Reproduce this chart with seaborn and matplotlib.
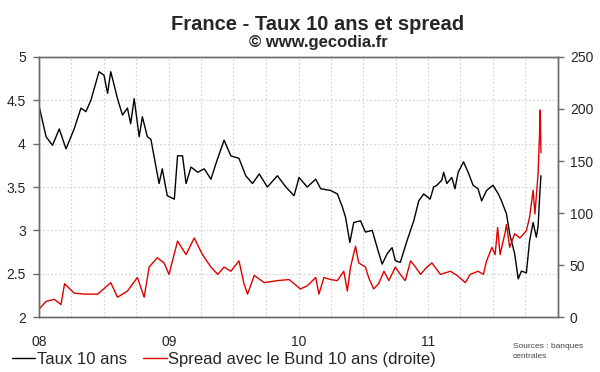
#! /usr/bin/env python3

import pandas as pd
import matplotlib
matplotlib.use('Agg')
import matplotlib.pyplot as plt
import matplotlib.dates as mdates
import matplotlib.ticker as mticker
import seaborn as sns

sns.set_style('white')
plt.rcParams['font.family'] = ['Liberation Sans', 'DejaVu Sans']

# France 10y yield (%, left axis)
taux_dates = [
    '2008-01-02', '2008-01-21', '2008-02-08', '2008-02-27', '2008-03-17',
    '2008-04-09', '2008-04-28', '2008-05-12', '2008-05-26', '2008-06-18',
    '2008-07-02', '2008-07-12', '2008-07-21', '2008-08-09', '2008-08-23',
    '2008-09-06', '2008-09-15', '2008-09-25', '2008-10-09', '2008-10-18',
    '2008-11-01', '2008-11-11', '2008-12-04', '2008-12-13', '2008-12-27',
    '2009-01-16', '2009-01-25', '2009-02-08', '2009-02-18', '2009-03-04',
    '2009-03-23', '2009-04-10', '2009-04-29', '2009-05-13', '2009-06-05',
    '2009-06-24', '2009-07-17', '2009-08-05', '2009-08-24', '2009-09-12',
    '2009-10-05', '2009-11-02', '2009-11-26', '2009-12-19', '2010-01-02',
    '2010-01-25', '2010-02-18', '2010-03-04', '2010-04-01', '2010-04-20',
    '2010-05-04', '2010-05-13', '2010-05-25', '2010-06-05', '2010-06-24',
    '2010-07-08', '2010-07-27', '2010-08-10', '2010-08-24', '2010-09-07',
    '2010-09-21', '2010-09-30', '2010-10-14', '2010-11-02', '2010-11-21',
    '2010-12-05', '2010-12-19', '2011-01-06', '2011-01-16', '2011-01-25',
    '2011-02-08', '2011-02-13', '2011-02-22', '2011-03-08', '2011-03-17',
    '2011-03-26', '2011-04-10', '2011-04-23', '2011-05-07', '2011-05-21',
    '2011-05-31', '2011-06-14', '2011-07-02', '2011-07-17', '2011-07-26',
    '2011-08-09', '2011-08-18', '2011-09-01', '2011-09-11', '2011-09-20',
    '2011-10-04', '2011-10-13', '2011-10-23', '2011-11-01', '2011-11-06',
    '2011-11-11', '2011-11-14',
]
taux = [
    4.42, 4.08, 3.98, 4.17, 3.94,
    4.17, 4.41, 4.37, 4.50, 4.83,
    4.79, 4.58, 4.83, 4.52, 4.33,
    4.41, 4.23, 4.52, 4.08, 4.31,
    4.08, 4.05, 3.54, 3.71, 3.40,
    3.36, 3.86, 3.86, 3.54, 3.73,
    3.67, 3.71, 3.59, 3.77, 4.04,
    3.86, 3.83, 3.63, 3.54, 3.65,
    3.50, 3.63, 3.50, 3.40, 3.61,
    3.50, 3.59, 3.48, 3.46, 3.42,
    3.27, 3.15, 2.86, 3.09, 3.11,
    2.98, 3.00, 2.80, 2.61, 2.73,
    2.80, 2.65, 2.63, 2.88, 3.11,
    3.34, 3.42, 3.36, 3.50, 3.52,
    3.58, 3.67, 3.54, 3.61, 3.48,
    3.67, 3.79, 3.67, 3.52, 3.48,
    3.34, 3.46, 3.52, 3.42, 3.34,
    3.19, 2.96, 2.73, 2.44, 2.53,
    2.51, 2.88, 3.09, 2.92, 3.05,
    3.44, 3.63,
]

# spread vs Bund 10y (bp, right axis)
spread_dates = [
    '2008-01-02', '2008-01-21', '2008-02-13', '2008-03-03', '2008-03-13',
    '2008-04-09', '2008-05-07', '2008-06-14', '2008-07-21', '2008-08-09',
    '2008-09-06', '2008-10-04', '2008-10-23', '2008-11-06', '2008-11-29',
    '2008-12-18', '2009-01-01', '2009-01-25', '2009-02-18', '2009-03-13',
    '2009-04-05', '2009-04-29', '2009-05-18', '2009-06-05', '2009-06-24',
    '2009-07-17', '2009-07-31', '2009-08-10', '2009-08-29', '2009-09-26',
    '2009-11-02', '2009-12-05', '2010-01-06', '2010-01-25', '2010-02-18',
    '2010-02-27', '2010-03-13', '2010-04-01', '2010-04-20', '2010-05-08',
    '2010-05-18', '2010-05-27', '2010-06-10', '2010-06-19', '2010-07-08',
    '2010-07-17', '2010-07-31', '2010-08-14', '2010-08-29', '2010-09-12',
    '2010-09-30', '2010-10-14', '2010-10-28', '2010-11-12', '2010-11-26',
    '2010-12-10', '2010-12-28', '2011-01-11', '2011-02-04', '2011-03-04',
    '2011-03-23', '2011-04-15', '2011-04-29', '2011-05-21', '2011-06-05',
    '2011-06-14', '2011-06-29', '2011-07-08', '2011-07-15', '2011-07-22',
    '2011-08-05', '2011-08-09', '2011-08-18', '2011-09-01', '2011-09-16',
    '2011-10-04', '2011-10-13', '2011-10-23', '2011-10-28', '2011-11-06',
    '2011-11-10', '2011-11-12', '2011-11-14',
]
spread = [
    8, 15, 17, 12, 32,
    23, 22, 22, 33, 19,
    25, 38, 19, 48, 57,
    52, 41, 73, 60, 76,
    60, 48, 41, 48, 44,
    54, 32, 22, 40, 33,
    35, 36, 27, 30, 38,
    22, 38, 36, 35, 44,
    25, 48, 68, 52, 48,
    38, 27, 32, 44, 35,
    48, 41, 35, 54, 48,
    41, 48, 52, 41, 44,
    40, 33, 41, 44, 41,
    54, 67, 60, 86, 60,
    81, 89, 67, 80, 76,
    83, 96, 122, 99, 138,
    176, 199, 158,
]

year_ticks = ['2008-01-01', '2009-01-01', '2010-01-01', '2011-01-01']
year_labels = ['08', '09', '10', '11']

taux_df = pd.DataFrame({'date': pd.to_datetime(taux_dates), 'taux': taux})
spread_df = pd.DataFrame({'date': pd.to_datetime(spread_dates), 'spread': spread})

fig = plt.figure(figsize=(6, 3.72), dpi=100)
ax = fig.add_axes([0.065, 0.1478, 0.865, 0.699])
ax2 = ax.twinx()

sns.lineplot(data=taux_df, x='date', y='taux', ax=ax, color='black',
             linewidth=1.0, label='Taux 10 ans')
sns.lineplot(data=spread_df, x='date', y='spread', ax=ax2, color='#e00000',
             linewidth=1.0, label='Spread avec le Bund 10 ans (droite)')

ax.set_xlim(pd.Timestamp('2008-01-01'), pd.Timestamp('2012-01-01'))
ax.set_ylim(2, 5)
ax2.set_ylim(0, 250)
ax.set_xlabel('')
ax.set_ylabel('')
ax2.set_ylabel('')

tick_pos = mdates.date2num(pd.to_datetime(year_ticks))
ax.xaxis.set_major_locator(mticker.FixedLocator(tick_pos))
ax.xaxis.set_major_formatter(mticker.FixedFormatter(year_labels))
ax.xaxis.set_minor_locator(mdates.MonthLocator(bymonth=[4, 7, 10]))
ax.yaxis.set_major_locator(mticker.MultipleLocator(0.5))
ax.yaxis.set_major_formatter(mticker.FuncFormatter(lambda v, p: '%g' % v))
ax2.yaxis.set_major_locator(mticker.MultipleLocator(50))

grid_kw = dict(color='#d0d0d0', linestyle=(0, (1.5, 2)), linewidth=0.8)
ax.grid(True, axis='x', which='both', **grid_kw)
ax.grid(True, axis='y', which='major', **grid_kw)

spine_col = '#6a6a6a'
for a in (ax, ax2):
    for s in a.spines.values():
        s.set_color(spine_col)
        s.set_linewidth(1.0)

ax.tick_params(axis='x', which='major', direction='inout', length=7.2,
               width=1, color=spine_col, pad=9.5, labelsize=10)
ax.tick_params(axis='x', which='minor', length=0)
ax.tick_params(axis='y', direction='out', length=4, width=1, color=spine_col,
               pad=5.5, labelsize=10, left=True)
ax2.tick_params(axis='y', direction='out', length=4, width=1, color=spine_col,
                pad=4.5, labelsize=10, right=True)

h1, l1 = ax.get_legend_handles_labels()
h2, l2 = ax2.get_legend_handles_labels()
ax.get_legend().remove()
ax2.get_legend().remove()
fig.legend(h1 + h2, l1 + l2, loc='lower left', bbox_to_anchor=(0.0, -0.018),
           ncol=2, frameon=False, fontsize=12, handlelength=1.4,
           handletextpad=0.1, columnspacing=1.0, borderpad=0.2)

fig.text(0.53, 0.919, 'France - Taux 10 ans et spread', ha='center',
         va='baseline', fontsize=14.5, fontweight='bold')
fig.text(0.53, 0.874, '\u00a9 www.gecodia.fr', ha='center', va='baseline',
         fontsize=12, fontweight='bold')
fig.text(0.855, 0.033, 'Sources : banques\ncentrales', ha='left',
         va='bottom', fontsize=6, color='#444444', linespacing=1.5)

plt.savefig('out.png', dpi=100)
